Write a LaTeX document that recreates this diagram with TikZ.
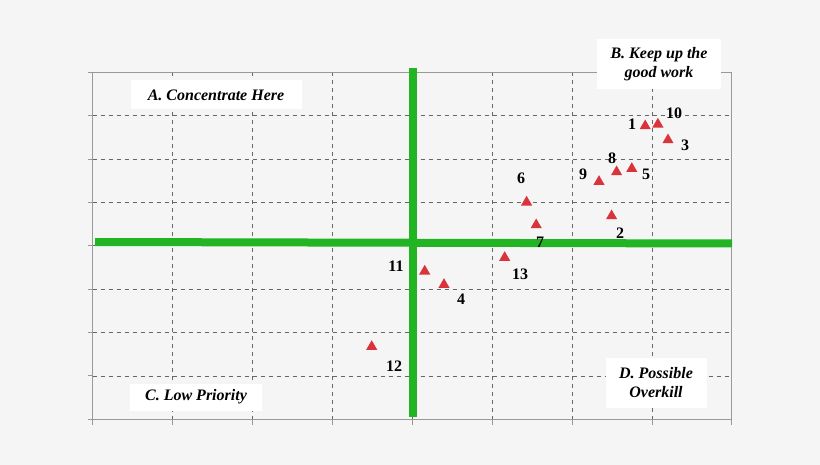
\documentclass[tikz,border=0pt]{standalone}
\usepackage{fontspec}
\setmainfont{Liberation Serif}
\usetikzlibrary{shapes.geometric}
\definecolor{qgreen}{HTML}{22B422}
\definecolor{tred}{HTML}{D9343C}
\begin{document}
\begin{tikzpicture}[x=1pt,y=-1pt,
  grid/.style={black!60,line width=0.7pt,dash pattern=on 4pt off 4pt},
  axis/.style={gray!80,line width=1pt},
  quad/.style={qgreen,line width=8pt},
  tri/.style={regular polygon,regular polygon sides=3,fill=tred,inner sep=0pt,minimum size=13pt},
  lab/.style={font=\fontsize{16}{16}\selectfont\bfseries},
  box/.style={fill=white,font=\fontsize{16}{19}\selectfont\bfseries\itshape,align=center,inner sep=3pt}]
\fill[white!96!black] (0,0) rectangle (820,465);
\useasboundingbox (0,0) rectangle (820,465);
\foreach \x in {172.5,252.5,332.5,412.5,492.5,572.5,652.5} \draw[grid] (\x,72.3) -- (\x,419.3);
\foreach \i in {1,...,7} \draw[grid] (92.5,72.3+43.375*\i) -- (731.5,72.3+43.375*\i);
\draw[axis] (92.5,72.3) rectangle (731.5,419.3);
\foreach \i in {0,...,8} \draw[axis] (88,72.3+43.375*\i) -- (92.5,72.3+43.375*\i);
\foreach \x in {92.5,172.5,252.5,332.5,412.5,492.5,572.5,652.5,731.5} \draw[axis] (\x,419.3) -- (\x,425);
\node[box,minimum width=171pt,minimum height=29pt] (A) at (216,95) {A. Concentrate Here};
\node[box,minimum width=124pt,minimum height=50pt] (B) at (659,64) {B. Keep up the\\good work};
\node[box,minimum width=132pt,minimum height=27pt] (C) at (196,397) {C. Low Priority};
\node[box,minimum width=101pt,minimum height=50pt] (D) at (656,383) {D. Possible\\Overkill};
\coordinate (v1) at (412.5,68); \coordinate (v2) at (412.5,416.5);
\coordinate (h1) at (95,242); \coordinate (h2) at (732,243.5);
\draw[quad] (v1) -- (v2);
\draw[quad] (h1) -- (h2);
\foreach \n/\x/\y/\lx/\ly in {1/645.2/126/632/124, 10/657.9/124.3/674/113, 3/668/140/685/145, 8/616.6/172/612/158, 5/631.8/168.7/646/174, 9/599/181.7/583/174, 6/526.6/202.3/521/178, 2/611.6/216/620/233, 7/536.2/225/540/242, 13/504.7/257.7/520/274, 11/424.7/271.3/396/266, 4/444/284.7/461/299, 12/371.7/346.7/394/366}{
  \node[tri] (p\n) at (\x,\y) {};
  \node[lab] (l\n) at (\lx,\ly) {\n};
}
\end{tikzpicture}
\end{document}
